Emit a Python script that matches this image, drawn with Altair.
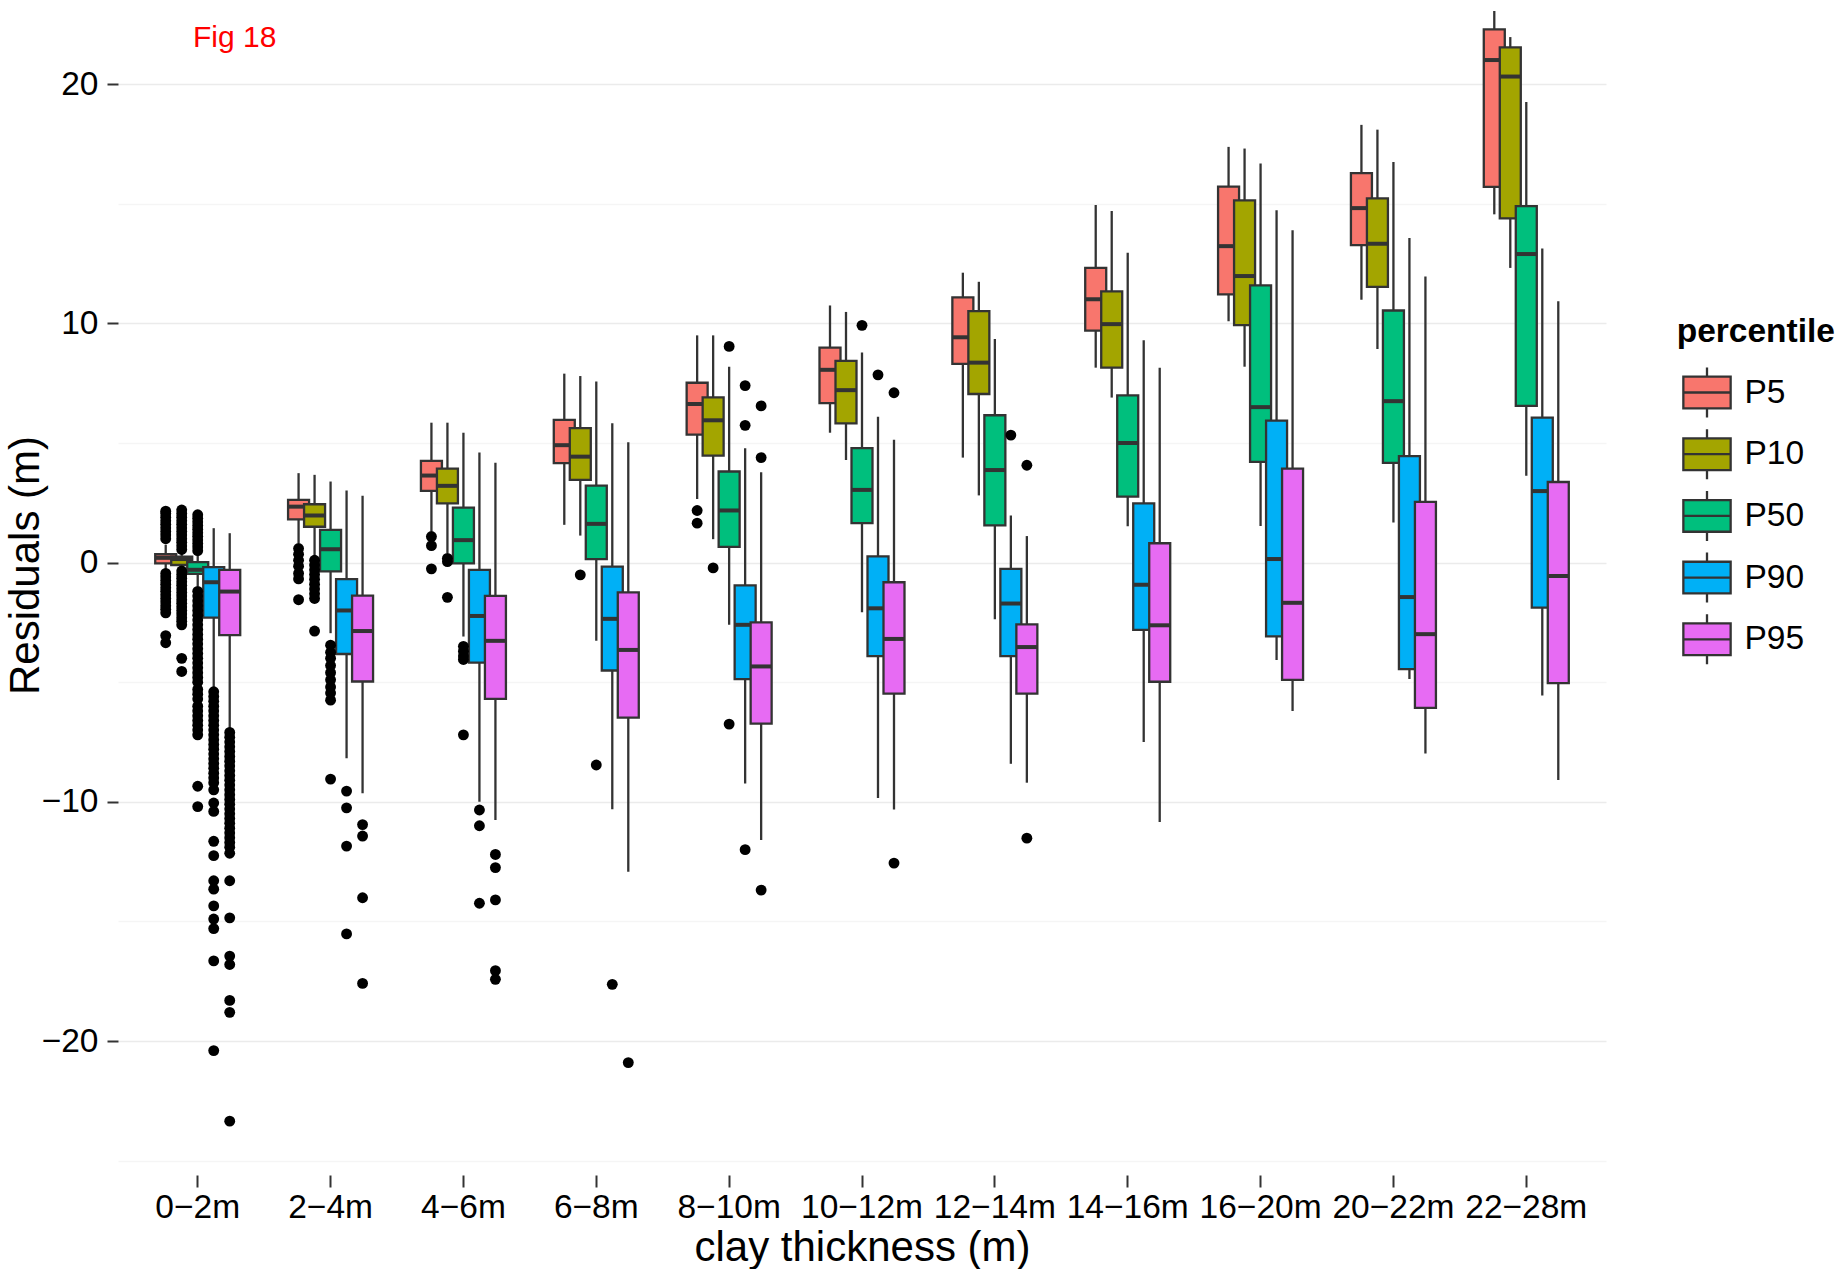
import altair as alt
import pandas as pd

# ---------------- data ----------------
categories = ["0\u22122m", "2\u22124m", "4\u22126m", "6\u22128m", "8\u221210m", "10\u221212m",
              "12\u221214m", "14\u221216m", "16\u221220m", "20\u221222m", "22\u221228m"]
percentiles = ["P5", "P10", "P50", "P90", "P95"]
colors = ["#F8766D", "#A3A500", "#00BF7D", "#00B0F6", "#E76BF3"]

# box statistics per percentile, one value per clay-thickness class
P5_low   = [-0.3, 0.81, 1.3, 1.58, 2.66, 5.43, 4.39, 8.15, 10.09, 10.99, 14.56]
P5_q1    = [-0.03, 1.81, 3.0, 4.16, 5.35, 6.67, 8.31, 9.7, 11.21, 13.27, 15.71]
P5_med   = [0.2, 2.34, 3.64, 4.91, 6.63, 8.06, 9.42, 11.01, 13.23, 14.82, 21.01]
P5_q3    = [0.35, 2.62, 4.25, 5.97, 7.52, 8.99, 11.09, 12.32, 15.72, 16.28, 22.29]
P5_high  = [0.75, 3.74, 5.85, 7.9, 9.5, 10.75, 12.12, 14.95, 17.38, 18.3, 23.06]

P10_low  = [-0.2, 0.25, 0.39, 1.13, 0.98, 4.29, 2.81, 6.9, 8.19, 8.93, 12.32]
P10_q1   = [-0.1, 1.5, 2.48, 3.46, 4.47, 5.82, 7.05, 8.15, 9.93, 11.53, 14.39]
P10_med  = [0.15, 1.97, 3.21, 4.43, 5.95, 7.21, 8.36, 9.97, 11.98, 13.33, 20.32]
P10_q3   = [0.25, 2.44, 3.93, 5.62, 6.91, 8.43, 10.51, 11.34, 15.14, 15.23, 21.54]
P10_high = [0.45, 3.67, 5.85, 7.8, 9.5, 10.48, 11.74, 14.7, 17.31, 18.1, 21.97]

P50_low  = [-1.0, -2.95, -3.09, -3.27, -2.6, -2.07, -2.37, 1.52, 1.53, 1.68, 3.63]
P50_q1   = [-0.47, -0.37, -0.03, 0.15, 0.66, 1.65, 1.56, 2.76, 4.21, 4.17, 6.55]
P50_med  = [-0.3, 0.56, 0.94, 1.62, 2.18, 3.04, 3.87, 5.0, 6.5, 6.75, 12.9]
P50_q3   = [0.02, 1.37, 2.3, 3.22, 3.81, 4.79, 6.16, 6.99, 11.59, 10.54, 14.9]
P50_high = [0.35, 3.39, 5.43, 7.57, 8.19, 8.78, 9.35, 12.95, 16.69, 16.75, 19.26]

P90_low  = [-5.3, -8.18, -10.0, -10.31, -9.23, -9.84, -8.41, -7.5, -4.07, -4.86, -5.55]
P90_q1   = [-2.3, -3.82, -4.18, -4.51, -4.87, -3.91, -3.91, -2.81, -3.08, -4.45, -1.88]
P90_med  = [-0.82, -2.0, -2.23, -2.35, -2.6, -1.91, -1.71, -0.93, 0.15, -1.44, 2.99]
P90_q3   = [-0.19, -0.69, -0.3, -0.17, -0.95, 0.26, -0.26, 2.48, 5.94, 4.45, 6.06]
P90_high = [1.44, 3.01, 4.6, 5.83, 4.78, 6.1, 1.97, 9.3, 14.73, 13.57, 13.13]

P95_low  = [-7.05, -9.64, -10.76, -12.92, -11.6, -10.32, -9.2, -10.84, -6.2, -7.98, -9.09]
P95_q1   = [-3.03, -4.97, -5.7, -6.48, -6.73, -5.48, -5.48, -4.98, -4.9, -6.07, -5.04]
P95_med  = [-1.21, -2.86, -3.27, -3.65, -4.34, -3.19, -3.53, -2.62, -1.68, -2.99, -0.56]
P95_q3   = [-0.3, -1.38, -1.39, -1.24, -2.5, -0.82, -2.58, 0.81, 3.93, 2.54, 3.37]
P95_high = [1.23, 2.8, 4.18, 5.03, 3.78, 5.14, 1.11, 8.15, 13.89, 11.96, 10.93]

# outliers per percentile, keyed by class
out_P5 = {
    "0\u22122m": [2.15, 2.05, 1.9, 1.75, 1.6, 1.45, 1.3, 1.15, 1.0, -0.45, -0.6, -0.75, -0.9,
                  -1.05, -1.2, -1.35, -1.5, -1.65, -1.8, -1.95, -2.1, -3.05, -3.35],
    "2\u22124m": [0.59, 0.35, 0.1, -0.15, -0.45, -0.68, -1.55],
    "4\u22126m": [1.09, 0.71, -0.26],
    "8\u221210m": [2.18, 1.65],
}
out_P10 = {
    "0\u22122m": [2.2, 2.05, 1.9, 1.75, 1.6, 1.45, 1.3, 1.15, 1.0, 0.85, 0.7, 0.55, -0.35, -0.5,
                  -0.65, -0.8, -0.95, -1.1, -1.25, -1.4, -1.55, -1.7, -1.85, -2.0, -2.15, -2.3,
                  -2.45, -2.6, -4.0, -4.55],
    "2\u22124m": [0.1, -0.1, -0.3, -0.5, -0.7, -0.9, -1.1, -1.3, -1.5, -2.86],
    "4\u22126m": [0.18, 0.04, -1.45],
    "6\u22128m": [-0.51],
    "8\u221210m": [-0.22],
}
out_P50 = {
    "0\u22122m": [2.0, 1.85, 1.7, 1.55, 1.4, 1.25, 1.1, 0.95, 0.8, 0.65, 0.5, -1.2, -1.4, -1.6,
                  -1.8, -2.0, -2.2, -2.4, -2.6, -2.8, -3.0, -3.2, -3.4, -3.6, -3.8, -4.0, -4.2,
                  -4.4, -4.6, -4.8, -5.0, -5.3, -5.5, -5.7, -6.0, -6.2, -6.4, -6.6, -6.8, -7.0,
                  -7.2, -9.35, -10.2],
    "2\u22124m": [-3.45, -3.75, -4.0, -4.3, -4.6, -4.9, -5.2, -5.45, -5.75, -9.05],
    "4\u22126m": [-3.5, -3.7, -3.9, -4.05, -7.2],
    "6\u22128m": [-8.46],
    "8\u221210m": [9.04, -6.75],
    "10\u221212m": [9.92],
}
out_P90 = {
    "0\u22122m": [-5.4, -5.6, -5.8, -6.0, -6.2, -6.4, -6.6, -6.8, -7.0, -7.2, -7.4, -7.6, -7.8,
                  -8.0, -8.2, -8.4, -8.6, -8.8, -9.0, -9.2, -9.5, -10.05, -10.4, -11.65, -12.25,
                  -13.3, -13.65, -14.35, -14.9, -15.3, -16.65, -20.4],
    "2\u22124m": [-9.55, -10.25, -11.85, -15.52],
    "4\u22126m": [-10.34, -11.0, -14.24],
    "6\u22128m": [-17.63],
    "8\u221210m": [7.4, 5.74, -12.0],
    "10\u221212m": [7.85],
    "12\u221214m": [5.33],
}
out_P95 = {
    "0\u22122m": [-7.1, -7.3, -7.5, -7.7, -7.9, -8.1, -8.3, -8.5, -8.7, -8.9, -9.1, -9.3, -9.5,
                  -9.7, -9.9, -10.1, -10.3, -10.5, -10.7, -10.9, -11.1, -11.3, -11.5, -11.7,
                  -11.9, -12.15, -13.3, -14.85, -16.45, -16.8, -18.3, -18.8, -23.35],
    "2\u22124m": [-10.95, -11.43, -14.01, -17.59],
    "4\u22126m": [-12.2, -12.75, -14.1, -17.06, -17.42],
    "6\u22128m": [-20.9],
    "8\u221210m": [6.55, 4.39, -13.69],
    "10\u221212m": [7.1, -12.56],
    "12\u221214m": [4.07, -11.52],
}

y_tick_values = [-25, -20, -15, -10, -5, 0, 5, 10, 15, 20]
fig_label = ["Fig 18"]

# ---------------- tables ----------------
stats = {
    "P5": (P5_low, P5_q1, P5_med, P5_q3, P5_high),
    "P10": (P10_low, P10_q1, P10_med, P10_q3, P10_high),
    "P50": (P50_low, P50_q1, P50_med, P50_q3, P50_high),
    "P90": (P90_low, P90_q1, P90_med, P90_q3, P90_high),
    "P95": (P95_low, P95_q1, P95_med, P95_q3, P95_high),
}
rows = []
for p in percentiles:
    lo, q1, md, q3, hi = stats[p]
    for i, c in enumerate(categories):
        rows.append({"cat": c, "pct": p, "low": lo[i], "q1": q1[i], "med": md[i],
                     "q3": q3[i], "high": hi[i]})
box_df = pd.DataFrame(rows)

outs = {"P5": out_P5, "P10": out_P10, "P50": out_P50, "P90": out_P90, "P95": out_P95}
orows = []
for p in percentiles:
    for c, vals in outs[p].items():
        for v in vals:
            orows.append({"cat": c, "pct": p, "value": v})
out_df = pd.DataFrame(orows)

label_df = pd.DataFrame({"label": fig_label})

# ---------------- encodings ----------------
FONT = "Liberation Sans"
W, H = 1488, 1175
STEP = W / 11.2            # band step of the class axis
DODGE = 16                 # distance between dodged boxes
half_band = STEP / 2
LINE = 2.3                 # box / whisker line width

x_axis = alt.Axis(
    title="clay thickness (m)", labelAngle=0, domain=False, bandPosition=0.5,
    tickSize=12, tickColor="#333333", tickWidth=2, labelPadding=4,
    labelFontSize=33.5, labelFont=FONT, labelColor="#000000", labelBaseline="top",
    titleFontSize=42, titleFont=FONT, titleFontWeight="normal", titleColor="#000000",
    titlePadding=4, gridColor="#EBEBEB", gridWidth=1.6,
)
y_axis = alt.Axis(
    title="Residuals (m)", values=y_tick_values, domain=False,
    tickSize=11, tickColor="#333333", tickWidth=2,
    tickOpacity={"condition": {"test": "datum.value % 10 !== 0", "value": 0}, "value": 1},
    labelExpr="datum.value % 10 === 0 ? datum.label : ''",
    labelPadding=9, labelFontSize=33.5, labelFont=FONT, labelColor="#000000",
    titleFontSize=42, titleFont=FONT, titleFontWeight="normal", titleColor="#000000",
    titleX=-93, titleY=565, titleBaseline="middle",
    gridColor={"condition": {"test": "datum.value % 10 === 0", "value": "#EBEBEB"},
               "value": "#F5F5F5"},
    gridWidth=1.6,
)

x_enc = alt.X("cat:N", sort=categories,
              scale=alt.Scale(domain=categories, paddingInner=0, paddingOuter=0.1),
              axis=x_axis)
xo_enc = alt.XOffset("pct:N", sort=percentiles,
                     scale=alt.Scale(domain=percentiles, paddingInner=0, paddingOuter=0,
                                     range=[half_band - 2.5 * DODGE, half_band + 2.5 * DODGE]))
y_scale = alt.Scale(domain=[-25.6, 23.52], nice=False, zero=False)

legend_symbol = ("M-0.946,-0.634L0.946,-0.634L0.946,0.634L-0.946,0.634Z"
                 "M0,-1L0,-0.634M0,0.634L0,1M-0.946,0L0.946,0")
legend = alt.Legend(
    title="percentile", orient="none", legendX=1558.7, legendY=316,
    symbolType=legend_symbol, symbolSize=2500, symbolStrokeColor="#333333",
    symbolStrokeWidth=LINE, symbolOpacity=1, symbolOffset=3.8,
    labelFontSize=33.5, labelFont=FONT, labelColor="#000000", labelOffset=11,
    titleFontSize=33.5, titleFont=FONT, titleFontWeight="bold", titleColor="#000000",
    titlePadding=16.5, rowPadding=0.7, padding=0,
)
fill_enc = alt.Fill("pct:N", sort=percentiles,
                    scale=alt.Scale(domain=percentiles, range=colors), legend=legend)

layers = []
for p in percentiles:
    base = alt.Chart(box_df).transform_filter(alt.datum.pct == p)
    whisk = base.mark_rule(color="#333333", strokeWidth=LINE).encode(
        x=x_enc, xOffset=xo_enc,
        y=alt.Y("low:Q", scale=y_scale, axis=y_axis),
        y2="high:Q",
    )
    box = base.mark_bar(width=21, stroke="#333333", strokeWidth=LINE, opacity=1).encode(
        x=x_enc, xOffset=xo_enc,
        y=alt.Y("q1:Q", scale=y_scale, axis=y_axis),
        y2="q3:Q",
        fill=fill_enc,
    )
    med = base.mark_tick(orient="horizontal", size=21, thickness=4,
                         color="#333333", opacity=1).encode(
        x=x_enc, xOffset=xo_enc,
        y=alt.Y("med:Q", scale=y_scale, axis=y_axis),
    )
    layers += [whisk, box, med]

points = alt.Chart(out_df).mark_circle(size=118, color="#000000", opacity=1).encode(
    x=x_enc, xOffset=xo_enc,
    y=alt.Y("value:Q", scale=y_scale, axis=y_axis),
)
layers.append(points)

fig_text = alt.Chart(label_df).mark_text(
    align="left", baseline="alphabetic", fontSize=30, font=FONT, color="#FF0000"
).encode(x=alt.value(75), y=alt.value(46.7), text="label:N")
layers.append(fig_text)

chart = alt.layer(*layers).properties(
    width=W, height=H,
    autosize=alt.AutoSizeParams(type="none"),
    padding={"left": 118, "top": 0, "right": 232, "bottom": 94},
    background="#FFFFFF",
).configure_view(stroke=None)

chart.save("out.html", embed_options={"renderer": "svg", "actions": False})
